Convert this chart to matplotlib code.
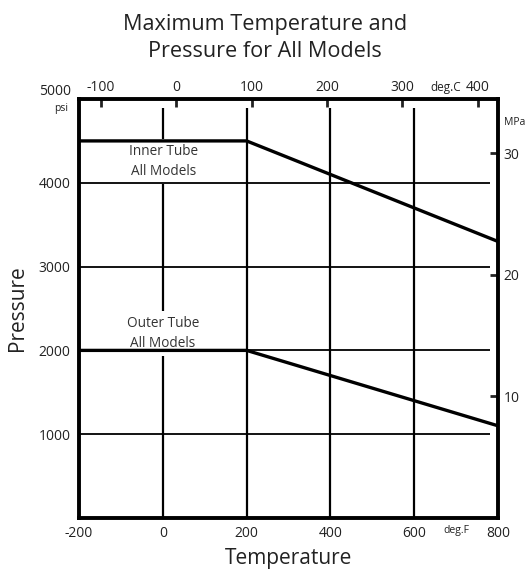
import numpy as np
import matplotlib.pyplot as plt

plt.rcParams['font.family'] = ['Open Sans', 'DejaVu Sans']
plt.rcParams['axes.unicode_minus'] = False

# data (deg F, psi)
inner_temp = [-200, 200, 800]
inner_psi = [4500, 4500, 3300]
outer_temp = [-200, 200, 800]
outer_psi = [2000, 2000, 1100]

f_ticks = [-200, 0, 200, 400, 600, 800]
psi_ticks = [1000, 2000, 3000, 4000, 5000]
c_ticks = [-100, 0, 100, 200, 300, 400]
mpa_ticks = [10, 20, 30]
grid_f = [0, 200, 400, 600]
grid_psi = [1000, 2000, 3000, 4000]


def f2c(f):
    return (np.asarray(f) - 32) * 5.0 / 9.0


def c2f(c):
    return np.asarray(c) * 9.0 / 5.0 + 32


def psi2mpa(p):
    return np.asarray(p) / 145.038


def mpa2psi(m):
    return np.asarray(m) * 145.038


fig = plt.figure(figsize=(5.30, 5.74), dpi=100)
ax = fig.add_axes([0.149, 0.0976, 0.7906, 0.7299])
ax.set_xlim(-200, 800)
ax.set_ylim(0, 5000)

# grid lines (stop a little short of top / right edges)
# vertical ones sit under the label boxes, horizontal ones over them
ax.vlines(grid_f, 0, 4890, color='black', lw=1.6, zorder=1)
ax.hlines(grid_psi, -200, 780, color='black', lw=1.3, zorder=3.5)

# data lines
ax.plot(inner_temp, inner_psi, color='black', lw=2.4, zorder=4, solid_capstyle='butt')
ax.plot(outer_temp, outer_psi, color='black', lw=2.4, zorder=4, solid_capstyle='butt')

box = dict(facecolor='white', edgecolor='none', pad=3.5)
ax.text(3, 4250, 'Inner Tube\nAll Models', ha='center', va='center', fontsize=9.8,
        color='#333333', linespacing=1.45, bbox=box, zorder=3)
ax.text(0, 2200, 'Outer Tube\nAll Models', ha='center', va='center', fontsize=9.8,
        color='#333333', linespacing=1.45, bbox=box, zorder=3)

for s in ax.spines.values():
    s.set_linewidth(2.8)
    s.set_zorder(5)

ax.set_xticks(f_ticks)
ax.set_yticks(psi_ticks)
ax.tick_params(axis='both', length=0, labelsize=10, colors='#222222', pad=6)
ax.get_yticklabels()[-1].set_va('bottom')

# top axis deg C
top = ax.secondary_xaxis('top', functions=(f2c, c2f))
top.set_xticks(c_ticks)
top.tick_params(direction='in', length=6, width=2, labelsize=10, pad=3, colors='#222222')
top.spines['top'].set_visible(False)

# right axis MPa
right = ax.secondary_yaxis('right', functions=(psi2mpa, mpa2psi))
right.set_yticks(mpa_ticks)
right.tick_params(direction='in', length=6, width=2, labelsize=10, pad=4, colors='#222222')
right.spines['right'].set_visible(False)

# unit labels
ax.text(-0.027, 0.99, 'psi', transform=ax.transAxes, fontsize=7.5, ha='right', va='top', color='#222222')
ax.text(1.015, 0.945, 'MPa', transform=ax.transAxes, fontsize=7.5, ha='left', va='center', color='#222222')
ax.text(0.875, 1.028, 'deg.C', transform=ax.transAxes, fontsize=8.5, ha='center', va='center', color='#222222')
ax.text(0.900, -0.031, 'deg.F', transform=ax.transAxes, fontsize=7.5, ha='center', va='center', color='#222222')

ax.set_xlabel('Temperature', fontsize=15, labelpad=5, color='#222222')
ax.set_ylabel('Pressure', fontsize=15, labelpad=8, color='#222222')
fig.suptitle('Maximum Temperature and\nPressure for All Models', fontsize=15.6,
             y=0.976, va='top', color='#222222', linespacing=1.4)

fig.savefig('out.png', dpi=100)
